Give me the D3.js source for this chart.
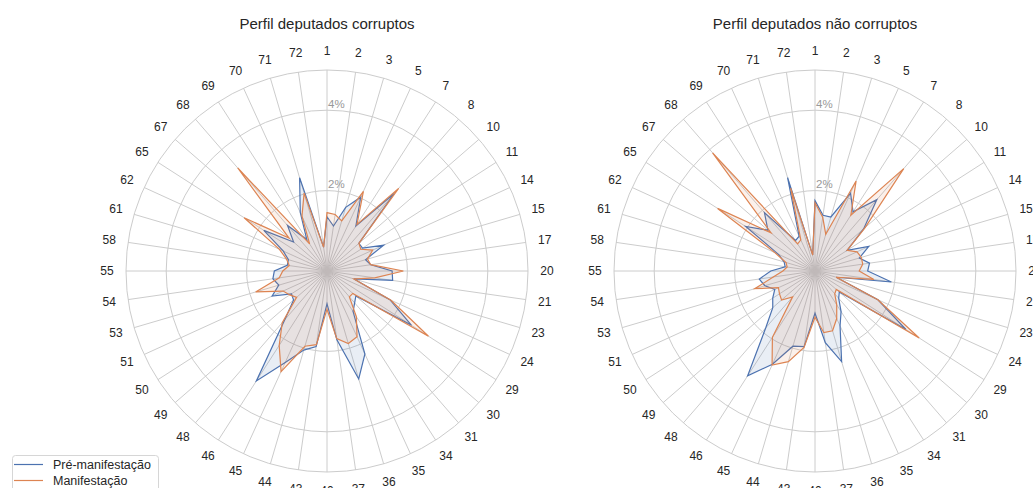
<!DOCTYPE html>
<html>
<head>
<meta charset="utf-8">
<script src="https://cdn.jsdelivr.net/npm/d3@7"></script>
<style>
  html, body { margin: 0; padding: 0; background: #ffffff; }
  svg { display: block; font-family: "Liberation Sans", Arial, sans-serif; }
</style>
</head>
<body>
<svg id="chart" width="1033" height="488"></svg>
<script>
// Party numbers around the circle (clockwise from the top)
const categories = ["1","2","3","5","7","8","10","11","14","15","17","20","21","23","24","29","30","31","34","35","36","37","40","43","44","45","46","48","49","50","51","53","54","55","58","61","62","65","67","68","69","70","71","72"];

// Share of votes per party (%), deputies with corruption cases
const corruptPre = [1.35,1.13,1.65,2.02,1.33,2.55,1.05,1.05,1.55,1.00,1.10,1.62,1.65,0.70,1.72,2.50,0.95,1.05,1.20,2.27,2.80,1.73,0.82,1.90,2.05,2.50,3.25,1.60,1.10,1.05,1.50,1.25,1.36,1.31,1.00,1.00,1.20,1.87,1.10,1.50,0.93,1.60,2.42,0.60];
const corruptMan = [1.45,1.42,1.30,2.18,1.38,2.72,1.05,1.00,1.25,1.05,1.10,1.90,1.20,0.70,1.75,3.00,0.85,0.85,1.35,1.80,1.88,1.70,0.95,1.85,1.95,2.75,2.20,1.70,1.00,1.10,1.20,1.85,1.20,1.10,0.95,1.05,1.30,2.45,1.25,3.39,0.80,1.50,2.02,0.60];

// Same measure for deputies without corruption cases
const cleanPre = [1.75,1.40,1.40,2.13,1.75,2.35,1.60,0.95,1.47,1.15,1.37,1.31,1.92,0.55,1.72,2.69,0.80,0.90,1.20,1.50,2.35,1.80,1.05,1.90,1.95,2.55,3.10,1.87,1.39,1.25,1.10,1.30,1.40,1.10,0.75,0.80,1.00,2.05,1.55,1.92,0.90,0.95,2.42,0.40];
const cleanMan = [1.70,1.35,0.95,2.46,1.65,3.37,1.65,0.95,1.15,1.20,1.20,1.10,1.48,0.55,1.72,3.08,0.70,0.75,1.00,1.30,1.55,1.55,1.15,1.92,2.35,2.57,1.96,0.85,1.10,1.05,1.00,1.56,1.05,0.80,0.70,0.75,1.10,2.88,1.45,3.89,0.80,0.85,2.15,0.40];

const radialTicks = [2, 4];
const radialMax = 5;
const seriesNames = ["Pré-manifestação", "Manifestação"];
const seriesColors = ["#4c72b0", "#dd8452"];
const titles = ["Perfil deputados corruptos", "Perfil deputados não corruptos"];

const svg = d3.select("#chart");
const outerR = 201;
const labelR = 220;
const gridColor = "#cccccc";
const textColor = "#262626";

const r = d3.scaleLinear().domain([0, radialMax]).range([0, outerR]);
const angle = d3.scaleLinear().domain([0, categories.length]).range([0, 2 * Math.PI]);

function drawRadar(cx, cy, title, pre, man) {
  const g = svg.append("g").attr("transform", `translate(${cx},${cy})`);

  // spokes
  g.selectAll("line.spoke").data(categories).join("line")
    .attr("class", "spoke")
    .attr("x1", 0).attr("y1", 0)
    .attr("x2", (d, i) => outerR * Math.sin(angle(i)))
    .attr("y2", (d, i) => -outerR * Math.cos(angle(i)))
    .attr("stroke", gridColor).attr("stroke-width", 1);

  // rings
  g.selectAll("circle.ring").data(radialTicks).join("circle")
    .attr("class", "ring").attr("r", d => r(d))
    .attr("fill", "none").attr("stroke", gridColor).attr("stroke-width", 1);
  g.append("circle").attr("r", r(radialMax))
    .attr("fill", "none").attr("stroke", gridColor).attr("stroke-width", 1);

  // series outlines with translucent fill
  const line = d3.lineRadial()
    .angle((d, i) => angle(i)).radius(d => r(d))
    .curve(d3.curveLinearClosed);

  [pre, man].forEach((vals, k) => {
    g.append("path").attr("d", line(vals))
      .attr("fill", seriesColors[k]).attr("fill-opacity", 0.12).attr("stroke", "none");
    g.append("path").attr("d", line(vals))
      .attr("fill", "none").attr("stroke", seriesColors[k]).attr("stroke-width", 1.2)
      .attr("stroke-linejoin", "miter");
  });

  // radial tick labels
  g.selectAll("text.rtick").data(radialTicks).join("text")
    .attr("class", "rtick")
    .attr("x", 1).attr("y", d => -r(d) - 2.5)
    .attr("font-size", 11.5).attr("fill", "#999999")
    .text(d => d + "%");

  // category labels
  g.selectAll("text.cat").data(categories).join("text")
    .attr("class", "cat")
    .attr("x", (d, i) => labelR * Math.sin(angle(i)))
    .attr("y", (d, i) => -labelR * Math.cos(angle(i)))
    .attr("text-anchor", "middle").attr("dominant-baseline", "central")
    .attr("font-size", 12).attr("fill", textColor)
    .text(d => d);

  // title
  svg.append("text").attr("x", cx).attr("y", 29)
    .attr("text-anchor", "middle").attr("font-size", 15).attr("fill", textColor)
    .text(title);
}

drawRadar(327, 271, titles[0], corruptPre, corruptMan);
drawRadar(815, 271, titles[1], cleanPre, cleanMan);

// legend
const lg = svg.append("g").attr("transform", "translate(12,455)");
lg.append("rect").attr("x", 0.5).attr("y", 0.5).attr("width", 146).attr("height", 44)
  .attr("rx", 3).attr("fill", "#ffffff").attr("fill-opacity", 0.8)
  .attr("stroke", "#d6d6d6").attr("stroke-width", 1);
seriesNames.forEach((name, k) => {
  const y = 9.5 + k * 16;
  lg.append("line").attr("x1", 2).attr("x2", 31).attr("y1", y).attr("y2", y)
    .attr("stroke", seriesColors[k]).attr("stroke-width", 1.2);
  lg.append("text").attr("x", 41).attr("y", y).attr("dominant-baseline", "central")
    .attr("font-size", 12.5).attr("fill", textColor).text(name);
});
</script>
</body>
</html>
